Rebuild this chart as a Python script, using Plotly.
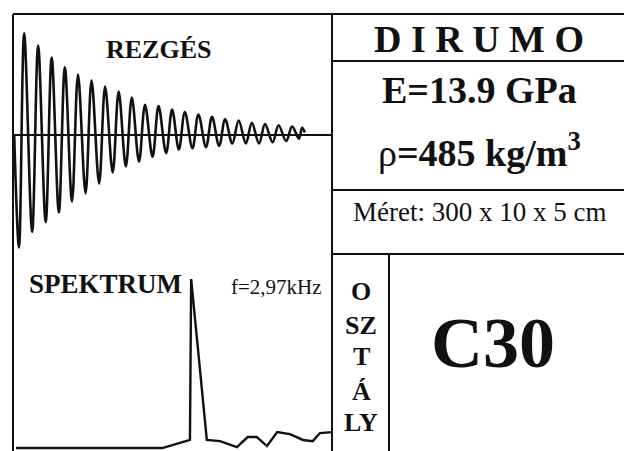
import plotly.graph_objects as go

W, H = 624, 451
SERIF = "Liberation Serif, Times New Roman, serif"
INK = "#111111"

# REZGÉS: damped vibration, extrema (time in ms, amplitude normalised)
time_ms = [0.03, 0.15, 0.28, 0.48, 0.63, 0.82, 0.97, 1.15, 1.30, 1.48, 1.63, 1.82, 1.97,
           2.16, 2.31, 2.50, 2.65, 2.83, 2.98, 3.16, 3.31, 3.50, 3.65, 3.84, 3.99, 4.16,
           4.31, 4.50, 4.65, 4.84, 4.99, 5.17, 5.32, 5.50, 5.66, 5.84, 5.99, 6.17, 6.32,
           6.51, 6.66, 6.85, 7.00, 7.17, 7.25, 7.32]
amplitude = [0.0, -0.93, 0.84, -0.80, 0.74, -0.72, 0.64, -0.64, 0.56, -0.55, 0.50, -0.48, 0.45,
             -0.40, 0.40, -0.31, 0.36, -0.26, 0.31, -0.22, 0.25, -0.18, 0.24, -0.15, 0.21, -0.12,
             0.19, -0.11, 0.17, -0.10, 0.15, -0.09, 0.13, -0.07, 0.12, -0.07, 0.10, -0.07, 0.09,
             -0.06, 0.08, -0.05, 0.07, -0.03, 0.06, 0.02]

# SPEKTRUM: frequency in kHz, magnitude normalised
freq_khz = [0.05, 2.48, 2.94, 2.96, 3.22, 3.44, 3.72, 3.90, 4.05, 4.22, 4.39, 4.60, 4.82,
            4.98, 5.10, 5.30]
magnitude = [0.015, 0.015, 0.056, 0.873, 0.056, 0.05, 0.02, 0.071, 0.071, 0.025, 0.096, 0.086,
             0.056, 0.05, 0.091, 0.096]

oszt_letters = ["O", "SZ", "T", "Á", "LY"]
oszt_y = [291, 325, 356, 391, 422]


def px_x(x):
    return x / W


def px_y(y):
    return 1 - y / H


fig = go.Figure()
fig.add_trace(go.Scatter(x=time_ms, y=amplitude, mode="lines", line_shape="spline",
                         line=dict(color=INK, width=2.6), xaxis="x", yaxis="y",
                         hoverinfo="skip"))
fig.add_trace(go.Scatter(x=freq_khz, y=magnitude, mode="lines",
                         line=dict(color=INK, width=2.4), xaxis="x2", yaxis="y2",
                         hoverinfo="skip"))

left_dom = [px_x(13), px_x(332)]
fig.update_layout(
    width=W, height=H, autosize=False,
    margin=dict(l=0, r=0, t=0, b=0),
    paper_bgcolor="white", plot_bgcolor="rgba(0,0,0,0)",
    showlegend=False,
    xaxis=dict(domain=left_dom, range=[0, 8], visible=False),
    yaxis=dict(domain=[px_y(256), px_y(14)], range=[-1, 1], visible=False),
    xaxis2=dict(domain=left_dom, range=[0, 5.3], visible=False, anchor="y2"),
    yaxis2=dict(domain=[0, px_y(254)], range=[0, 1], visible=False, anchor="x2"),
)

# zero line of the vibration plot
fig.add_shape(type="line", xref="x domain", yref="y", x0=0, x1=1, y0=0, y1=0,
              line=dict(color=INK, width=2))

# card frame
frame = [
    (13, 14, 624, 14), (13, 14, 13, 451), (332, 14, 332, 451),
    (332, 61, 624, 61), (332, 190, 624, 190), (332, 254, 624, 254),
    (389, 254, 389, 451),
]
for x0, y0, x1, y1 in frame:
    fig.add_shape(type="line", xref="paper", yref="paper",
                  x0=px_x(x0), y0=px_y(y0), x1=px_x(x1), y1=px_y(y1),
                  line=dict(color=INK, width=2))


def label(text, x, y, size, bold=True):
    fig.add_annotation(text=f"<b>{text}</b>" if bold else text, xref="paper", yref="paper",
                       x=px_x(x), y=px_y(y), xanchor="center", yanchor="middle",
                       showarrow=False, font=dict(family=SERIF, size=size, color=INK))


label("REZGÉS", 159, 50, 26)
label("SPEKTRUM", 105, 284, 27)
label("f=2,97kHz", 276, 287, 21, bold=False)
label("D I R U M O", 479, 39, 38)
label("E=13.9 GPa", 479, 90, 38)
label("ρ<b>=485 kg/m<sup>3</sup></b>", 479, 150, 38, bold=False)
label("Méret: 300 x 10 x 5 cm", 479, 212, 27, bold=False)
label("C30", 493, 343, 72)
for t, y in zip(oszt_letters, oszt_y):
    label(t, 361, y, 26)

# the page's default body margin would shift the card by 8px
fig.write_html("out.html", config={"displayModeBar": False},
               post_script="document.body.style.margin='0';")
